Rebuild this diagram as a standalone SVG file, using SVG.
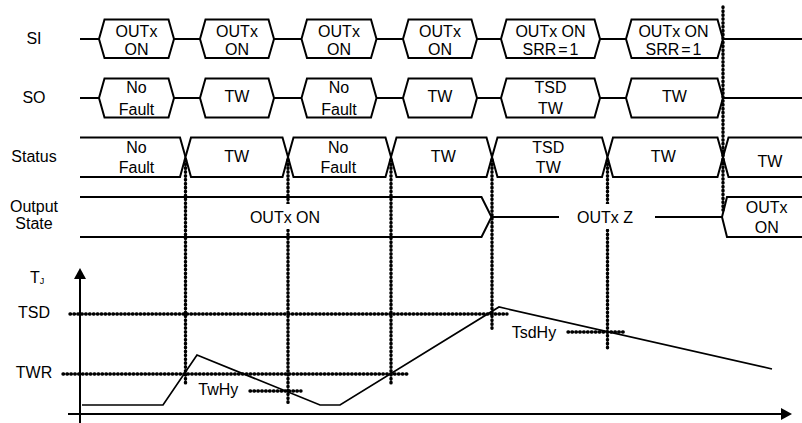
<svg xmlns="http://www.w3.org/2000/svg" width="802" height="423" viewBox="0 0 802 423">
<style>
text { font-family: "Liberation Sans", Arial, sans-serif; font-size: 16px; fill: #000; }
.m { text-anchor: middle; }
.tight { word-spacing: -2.5px; }
.sig { fill: none; stroke: #000; stroke-width: 2; }
.box { fill: #fff; stroke: #000; stroke-width: 2; stroke-linejoin: miter; }
.open { fill: none; stroke: #000; stroke-width: 2; }
.dot { fill: none; stroke: #000; stroke-width: 3.4; stroke-linecap: round; stroke-dasharray: 0.6 3.3; }
.curve { fill: none; stroke: #000; stroke-width: 1.7; stroke-linejoin: miter; }
.axis { fill: none; stroke: #000; stroke-width: 2; }
.bg { fill: #fff; stroke: none; }
</style>
<defs>
<marker id="ah" viewBox="0 0 11 12" refX="0" refY="6" markerWidth="11" markerHeight="12" orient="auto" markerUnits="userSpaceOnUse">
<path d="M0,0 L11,6 L0,12 Z" fill="#000"/>
</marker>
</defs>

<g id="labels">
<text class="m" x="34" y="44">SI</text>
<text class="m" x="34" y="102.5">SO</text>
<text class="m" x="34" y="162">Status</text>
<text class="m" x="34" y="211.7">Output</text>
<text class="m" x="34" y="228.5">State</text>
<text x="30" y="283">T<tspan font-size="9" dy="1">J</tspan></text>
<text class="m" x="34" y="318">TSD</text>
<text class="m" x="34" y="378">TWR</text>
</g>

<g id="si-row">
<path class="sig" d="M80,39 H802"/>
<g id="si1"><path class="box" d="M99,39 L104.5,19.5 H168.5 L174,39 L168.5,58 H104.5 Z"/><text class="m" x="136.5" y="37">OUTx</text><text class="m" x="136.5" y="54.7">ON</text></g>
<g id="si2"><path class="box" d="M200,39 L205.5,19.5 H268.5 L274,39 L268.5,58 H205.5 Z"/><text class="m" x="237" y="37">OUTx</text><text class="m" x="237" y="54.7">ON</text></g>
<g id="si3"><path class="box" d="M301.5,39 L307,19.5 H371 L376.5,39 L371,58 H307 Z"/><text class="m" x="339" y="37">OUTx</text><text class="m" x="339" y="54.7">ON</text></g>
<g id="si4"><path class="box" d="M403,39 L408.5,19.5 H471.5 L477,39 L471.5,58 H408.5 Z"/><text class="m" x="440" y="37">OUTx</text><text class="m" x="440" y="54.7">ON</text></g>
<g id="si5"><path class="box" d="M501,39 L506.5,19.5 H594.5 L600,39 L594.5,58 H506.5 Z"/><text class="m" x="550.5" y="37">OUTx ON</text><text class="m tight" x="550.5" y="54.7">SRR = 1</text></g>
<g id="si6"><path class="box" d="M626,39 L631.5,19.5 H717.5 L723,39 L717.5,58 H631.5 Z"/><text class="m" x="673.5" y="37">OUTx ON</text><text class="m tight" x="673.5" y="54.7">SRR = 1</text></g>
</g>

<g id="so-row">
<path class="sig" d="M80,98 H802"/>
<g id="so1"><path class="box" d="M99,98 L104.5,78.5 H168.5 L174,98 L168.5,117.5 H104.5 Z"/><text class="m" x="136.5" y="93.3">No</text><text class="m" x="136.5" y="115">Fault</text></g>
<g id="so2"><path class="box" d="M200,98 L205.5,78.5 H268.5 L274,98 L268.5,117.5 H205.5 Z"/><text class="m" x="237" y="101.7">TW</text></g>
<g id="so3"><path class="box" d="M301.5,98 L307,78.5 H371 L376.5,98 L371,117.5 H307 Z"/><text class="m" x="339" y="93.3">No</text><text class="m" x="339" y="115">Fault</text></g>
<g id="so4"><path class="box" d="M403,98 L408.5,78.5 H471.5 L477,98 L471.5,117.5 H408.5 Z"/><text class="m" x="440" y="101.7">TW</text></g>
<g id="so5"><path class="box" d="M501,98 L506.5,78.5 H594.5 L600,98 L594.5,117.5 H506.5 Z"/><text class="m" x="550.5" y="93.3">TSD</text><text class="m" x="550.5" y="113.5">TW</text></g>
<g id="so6"><path class="box" d="M626,98 L631.5,78.5 H717.5 L723,98 L717.5,117.5 H631.5 Z"/><text class="m" x="674.5" y="101.7">TW</text></g>
</g>

<g id="status-row">
<g id="st1"><path class="open" d="M80,137.5 H180 L185.5,157 L180,177 H80"/><text class="m" x="136.5" y="152.7">No</text><text class="m" x="136.5" y="172.5">Fault</text></g>
<g id="st2"><path class="box" d="M185.5,157 L191,137.5 H282.5 L288,157 L282.5,177 H191 Z"/><text class="m" x="236.7" y="161.7">TW</text></g>
<g id="st3"><path class="box" d="M288,157 L293.5,137.5 H385.5 L391,157 L385.5,177 H293.5 Z"/><text class="m" x="338.3" y="152.7">No</text><text class="m" x="338.3" y="172.5">Fault</text></g>
<g id="st4"><path class="box" d="M391,157 L396.5,137.5 H486.5 L492,157 L486.5,177 H396.5 Z"/><text class="m" x="443.3" y="161.7">TW</text></g>
<g id="st5"><path class="box" d="M492,157 L497.5,137.5 H602 L607.5,157 L602,177 H497.5 Z"/><text class="m" x="548.3" y="153.3">TSD</text><text class="m" x="548.3" y="173.3">TW</text></g>
<g id="st6"><path class="box" d="M607.5,157 L613,137.5 H717.5 L723,157 L717.5,177 H613 Z"/><text class="m" x="663.3" y="161.7">TW</text></g>
<g id="st7"><path class="open" d="M802,137.5 H728.5 L723,157 L728.5,177 H802"/><text class="m" x="770" y="166.7">TW</text></g>
</g>

<g id="output-row">
<g id="out1"><path class="open" d="M80,197 H481.5 L491.5,217 L481.5,237 H80"/></g>
<g id="out2"><path class="sig" d="M491.5,217 H722"/></g>
<g id="out3"><path class="open" d="M802,197 H727 L722,217 L727,237 H802"/><text class="m" x="766.7" y="213.3">OUTx</text><text class="m" x="766.7" y="233.3">ON</text></g>
</g>

<g id="graph">
<path class="axis" d="M80,423 V279" marker-end="url(#ah)"/>
<path class="axis" d="M68,414 H781" marker-end="url(#ah)"/>
<path class="curve" d="M82,405 H163 L197,355 L320,405 H340 L499,307 L772,369"/>
</g>

<g id="connectors">
<path class="dot" d="M185.5,160 V385"/>
<path class="dot" d="M288,160 V403"/>
<path class="dot" d="M391,160 V385"/>
<path class="dot" d="M492,160 V330"/>
<path class="dot" d="M607.5,160 V349"/>
<path class="dot" d="M723,7 V210"/>
<path class="dot" d="M70,314 H507"/>
<path class="dot" d="M63,374 H407"/>
<path class="dot" d="M250,391 H301"/>
<path class="dot" d="M568,332 H624"/>
</g>

<g id="state-labels">
<rect class="bg" x="247" y="204" width="78" height="25"/>
<text class="m" x="285" y="223">OUTx ON</text>
<rect class="bg" x="559" y="204" width="96" height="25"/>
<text class="m" x="605" y="222.5">OUTx Z</text>
<text x="198.3" y="395">TwHy</text>
<text x="511.7" y="338.3">TsdHy</text>
</g>
</svg>
